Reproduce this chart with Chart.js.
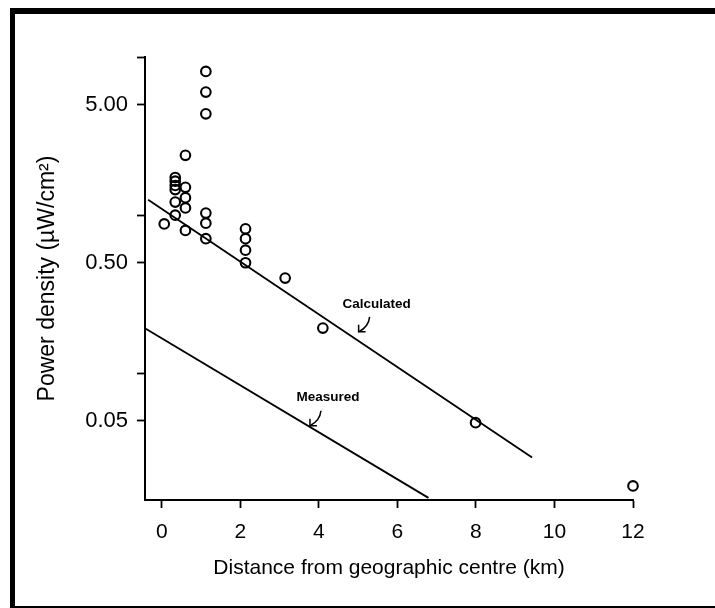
<!DOCTYPE html>
<html>
<head>
<meta charset="utf-8">
<script src="https://cdn.jsdelivr.net/npm/chart.js@4/dist/chart.umd.min.js"></script>
<style>
  body { margin: 0; background: #fff; }
  #wrap { position: relative; width: 715px; height: 608px; overflow: hidden; }
  #frame { position: absolute; left: 10px; top: 8px; width: 720px; height: 592px;
           border-top: 6px solid #000; border-left: 5px solid #000; border-bottom: 2px solid #000; }
  #c { position: absolute; left: 0; top: 0; }
</style>
</head>
<body>
<div id="wrap">
  <div id="frame"></div>
  <canvas id="c" width="715" height="608"></canvas>
</div>
<script>
// survey points: distance (km) and power density (uW/cm2)
const distKm = [0.06, 0.34, 0.34, 0.34, 0.34, 0.34, 0.34, 0.6, 0.6, 0.6, 0.6, 0.6,
                1.12, 1.12, 1.12, 1.12, 1.12, 1.12, 2.13, 2.13, 2.13, 2.13, 3.14, 4.1, 7.99, 12.0];
const power = [0.88, 1.73, 1.64, 1.54, 1.45, 1.21, 1.0, 2.39, 1.5, 1.29, 1.11, 0.8,
               8.1, 6.0, 4.37, 1.03, 0.89, 0.71, 0.82, 0.71, 0.6, 0.5, 0.4, 0.193, 0.0487, 0.0194];

// fitted lines (end points)
const calcX = [-0.35, 9.43];
const calcY = [1.25, 0.0293];
const measX = [-0.41, 6.79];
const measY = [0.191, 0.0163];

const xTicks = [0, 2, 4, 6, 8, 10, 12];
const yTicks = [0.05, 0.1, 0.5, 1, 5, 10];
const yLabels = { 0.05: "0.05", 0.5: "0.50", 5: "5.00" };

// line labels: text, x, y (data coords)
const notes = [
  { text: "Calculated", x: 5.47, y: 0.275 },
  { text: "Measured", x: 4.23, y: 0.07 }
];

const FONT = 'Arial, "Liberation Sans", Helvetica, sans-serif';

const toPts = (xs, ys) => xs.map((x, i) => ({ x: x, y: ys[i] }));

const notePlugin = {
  id: "notes",
  afterDatasetsDraw(chart) {
    const ctx = chart.ctx;
    const xs = chart.scales.x, ys = chart.scales.y;
    ctx.save();
    ctx.fillStyle = "#000";
    ctx.strokeStyle = "#000";
    ctx.lineWidth = 1.5;
    ctx.font = "bold 13.5px " + FONT;
    ctx.textAlign = "center";
    ctx.textBaseline = "middle";
    notes.forEach(n => {
      const px = xs.getPixelForValue(n.x);
      const py = ys.getPixelForValue(n.y);
      ctx.fillText(n.text, px, py);
      // little hooked arrow pointing at the line
      const sx = px - 7, sy = py + 13;
      const ex = px - 18, ey = py + 28;
      ctx.beginPath();
      ctx.moveTo(sx, sy);
      ctx.quadraticCurveTo(px - 8, py + 23, ex, ey);
      ctx.stroke();
      ctx.beginPath();
      ctx.moveTo(ex, ey - 7);
      ctx.lineTo(ex, ey);
      ctx.lineTo(ex + 7, ey);
      ctx.stroke();
    });
    ctx.restore();
  }
};

new Chart(document.getElementById("c"), {
  type: "scatter",
  data: {
    datasets: [
      {
        label: "Survey",
        data: toPts(distKm, power),
        clip: false,
        pointStyle: "circle",
        pointRadius: 4.8,
        pointBorderWidth: 2.1,
        pointBorderColor: "#000",
        pointBackgroundColor: "rgba(255,255,255,0)"
      },
      {
        label: "Calculated",
        type: "line",
        data: toPts(calcX, calcY),
        borderColor: "#000",
        borderWidth: 1.8,
        pointRadius: 0,
        fill: false
      },
      {
        label: "Measured",
        type: "line",
        data: toPts(measX, measY),
        borderColor: "#000",
        borderWidth: 1.8,
        pointRadius: 0,
        fill: false
      }
    ]
  },
  options: {
    responsive: false,
    animation: false,
    devicePixelRatio: 1,
    layout: { padding: { top: 57, right: 82, left: 0, bottom: 0 } },
    plugins: {
      legend: { display: false },
      tooltip: { enabled: false }
    },
    scales: {
      x: {
        type: "linear",
        min: -0.43,
        max: 12,
        afterBuildTicks: s => { s.ticks = xTicks.map(v => ({ value: v })); },
        afterFit: s => { s.height = 108; },
        grid: { drawOnChartArea: false, drawTicks: true, tickLength: 8, tickWidth: 1.8, tickColor: "#000" },
        border: { display: true, color: "#000", width: 2 },
        ticks: { color: "#000", font: { family: FONT, size: 21 }, padding: 12, maxRotation: 0 },
        title: {
          display: true,
          text: "Distance from geographic centre (km)",
          color: "#000",
          font: { family: FONT, size: 21 },
          padding: { top: 0, bottom: 27 }
        }
      },
      y: {
        type: "logarithmic",
        min: 0.0158,
        max: 10,
        afterBuildTicks: s => { s.ticks = yTicks.map(v => ({ value: v })); },
        afterFit: s => { s.width = 145; },
        grid: { drawOnChartArea: false, drawTicks: true, tickLength: 8, tickWidth: 1.8, tickColor: "#000" },
        border: { display: true, color: "#000", width: 2 },
        ticks: {
          color: "#000",
          font: { family: FONT, size: 22 },
          padding: 9,
          callback: v => yLabels[v] || ""
        },
        title: {
          display: true,
          text: "Power density (\u00b5W/cm\u00b2)",
          color: "#000",
          font: { family: FONT, size: 23 },
          padding: { top: 34, bottom: 0 }
        }
      }
    }
  },
  plugins: [notePlugin]
});
</script>
</body>
</html>
